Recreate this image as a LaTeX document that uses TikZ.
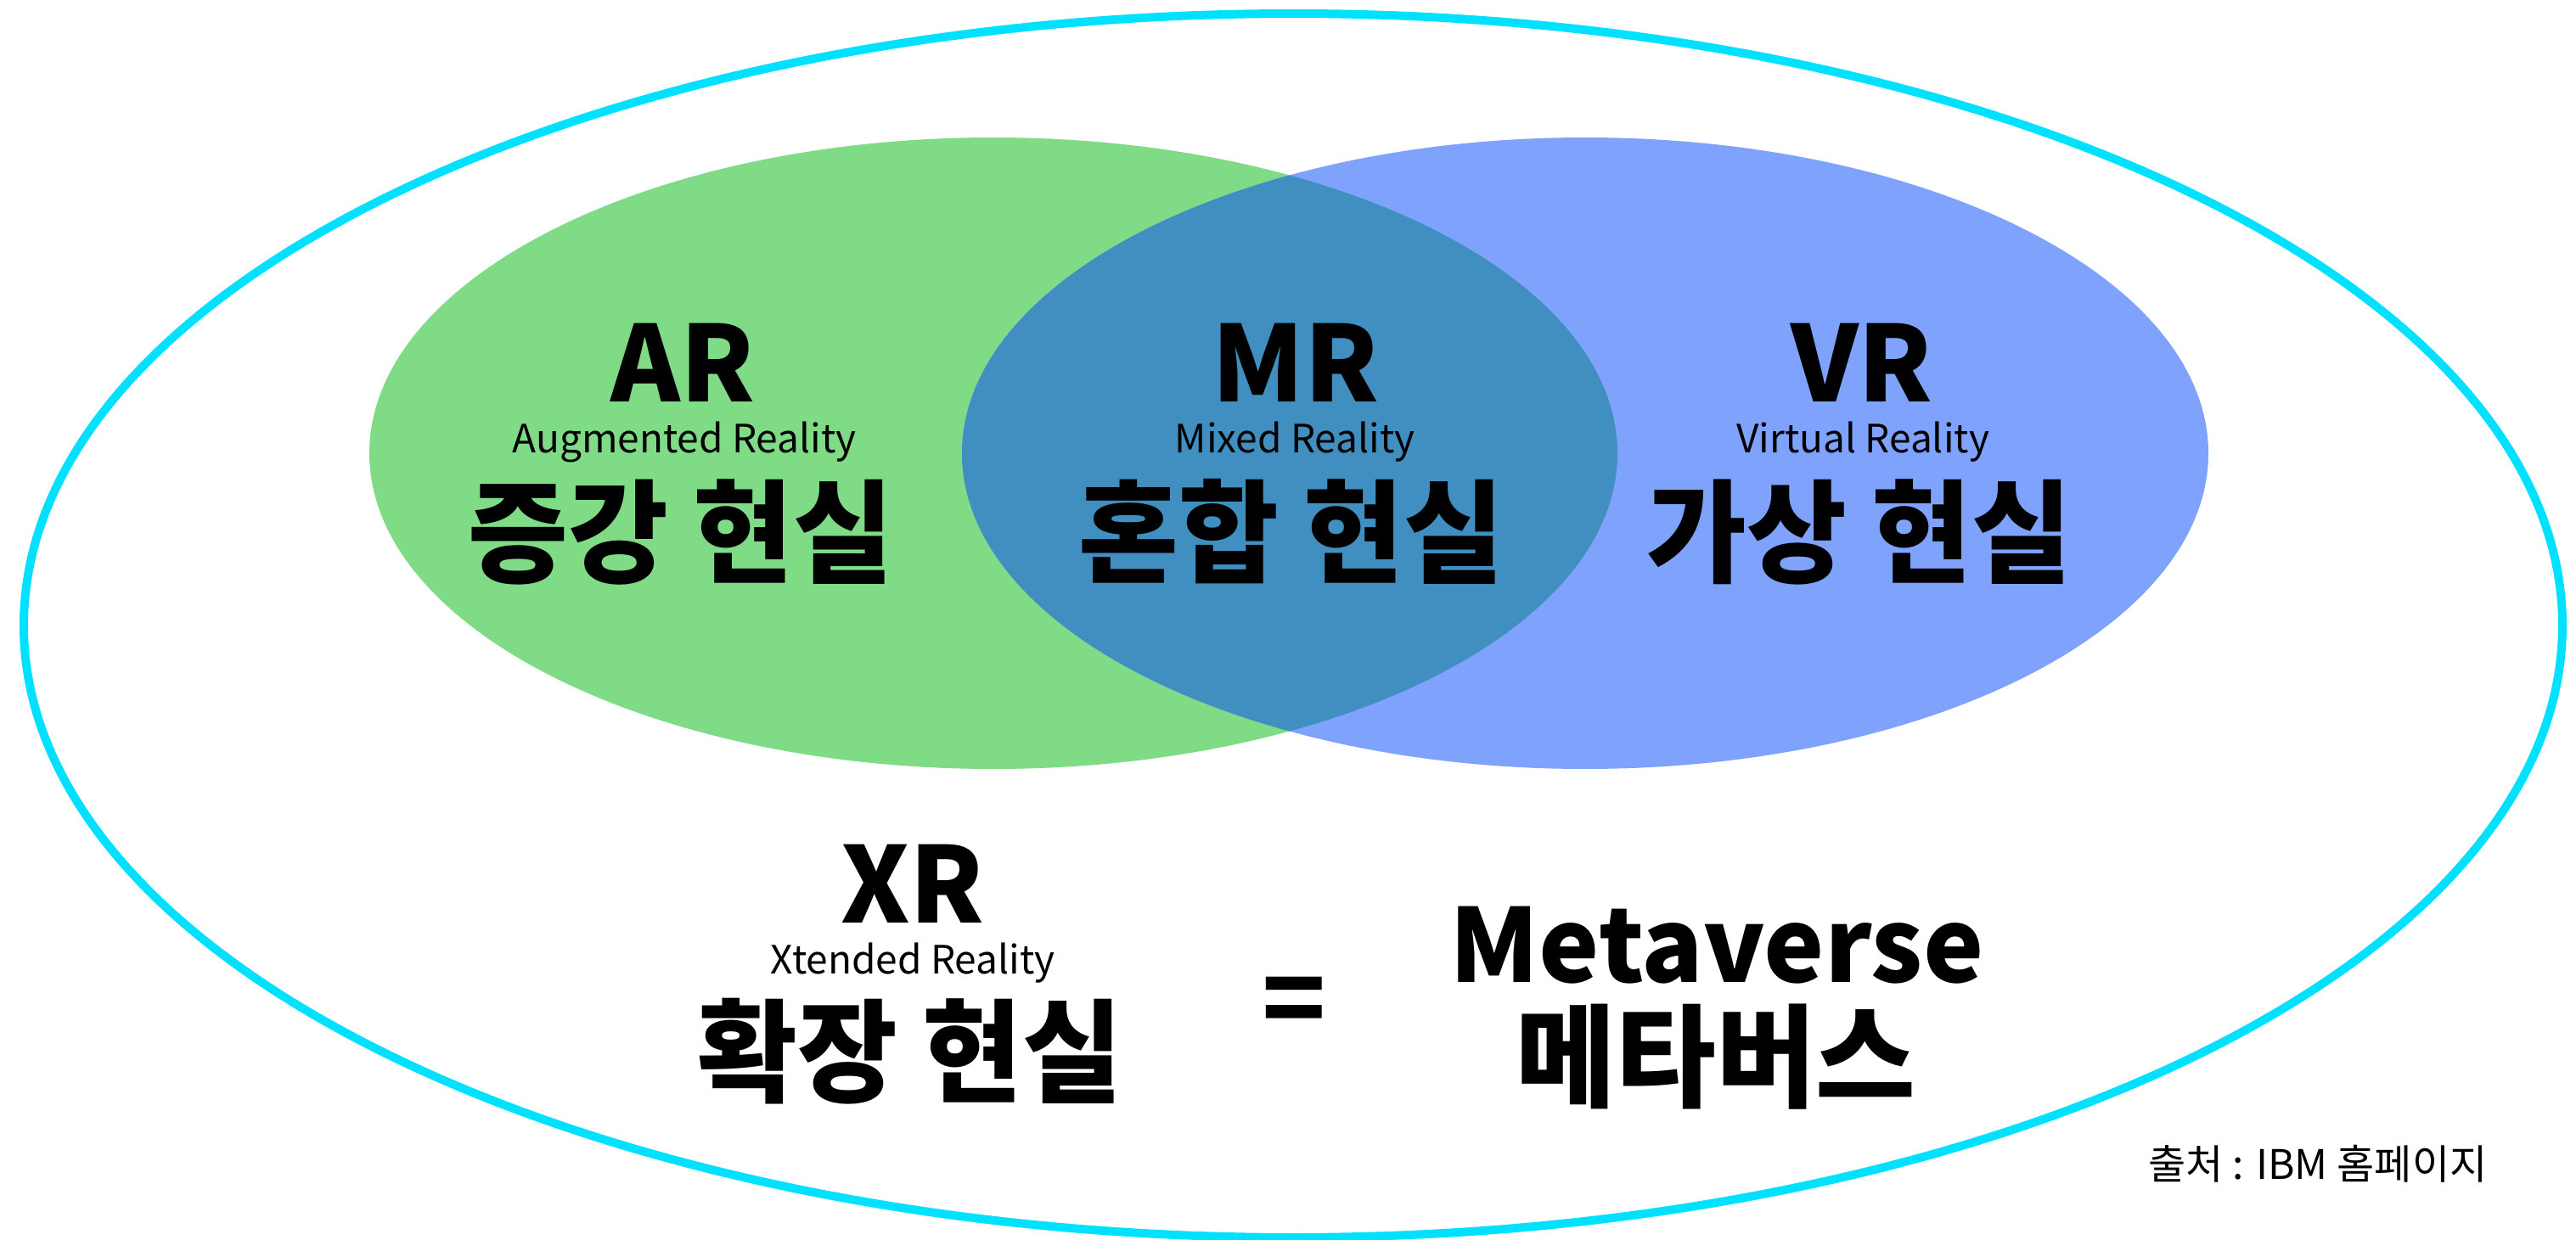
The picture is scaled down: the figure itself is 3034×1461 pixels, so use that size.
\documentclass[tikz,border=0pt]{standalone}
\usepackage{fontspec}
\setmainfont{Noto Sans CJK KR}
\definecolor{argreen}{HTML}{80DB87}
\definecolor{vrblue}{HTML}{7FA3FC}
\definecolor{mrblue}{HTML}{418FC0}
\definecolor{xrcyan}{HTML}{00E1FF}
\tikzset{
  big/.style={font=\fontsize{124}{130}\selectfont\bfseries, anchor=base, inner sep=0pt},
  meta/.style={font=\fontsize{120}{126}\selectfont\bfseries, anchor=base, inner sep=0pt},
  han/.style={font=\fontsize{132}{138}\selectfont\bfseries, anchor=base, inner sep=0pt, xscale=0.97},
  sub/.style={font=\fontsize{46}{52}\selectfont, anchor=base, inner sep=0pt},
  src/.style={font=\fontsize{48}{54}\selectfont, anchor=base, inner sep=0pt}
}
\begin{document}
\begin{tikzpicture}[x=1pt,y=-1pt]
\useasboundingbox (0,0) rectangle (3034,1461);
\fill[white] (0,0) rectangle (3034,1461);
% outer XR ellipse
\draw[xrcyan, line width=10pt] (1523,737) ellipse [x radius=1495pt, y radius=721pt];
% AR and VR ellipses
\fill[argreen] (1170,534) ellipse [x radius=735pt, y radius=372pt];
\fill[vrblue] (1867,534) ellipse [x radius=734pt, y radius=372pt];
\begin{scope}
  \clip (1170,534) ellipse [x radius=735pt, y radius=372pt];
  \fill[mrblue] (1867,534) ellipse [x radius=734pt, y radius=372pt];
\end{scope}
% AR
\node[big] (ar) at (804,473) {AR};
\node[sub] (arsub) at (806,533) {Augmented Reality};
\node[han] (arko) at (802,676) {증강 현실};
% MR
\node[big] (mr) at (1526,473) {MR};
\node[sub] (mrsub) at (1525,533) {Mixed Reality};
\node[han] (mrko) at (1521,676) {혼합 현실};
% VR
\node[big] (vr) at (2193,473) {VR};
\node[sub] (vrsub) at (2194,533) {Virtual Reality};
\node[han] (vrko) at (2190,676) {가상 현실};
% XR
\node[big] (xr) at (1075,1087) {XR};
\node[sub] (xrsub) at (1075,1147) {Xtended Reality};
\node[han] (xrko) at (1072,1288) {확장 현실};
% equals
\node[big] (eq) at (1524,1222) {=};
% Metaverse
\node[meta] (metaen) at (2022,1157) {Metaverse};
\node[han] (metako) at (2021,1294) {메타버스};
% source
\node[src] (source) at (2730,1389) {출처 : IBM 홈페이지};
\end{tikzpicture}
\end{document}
